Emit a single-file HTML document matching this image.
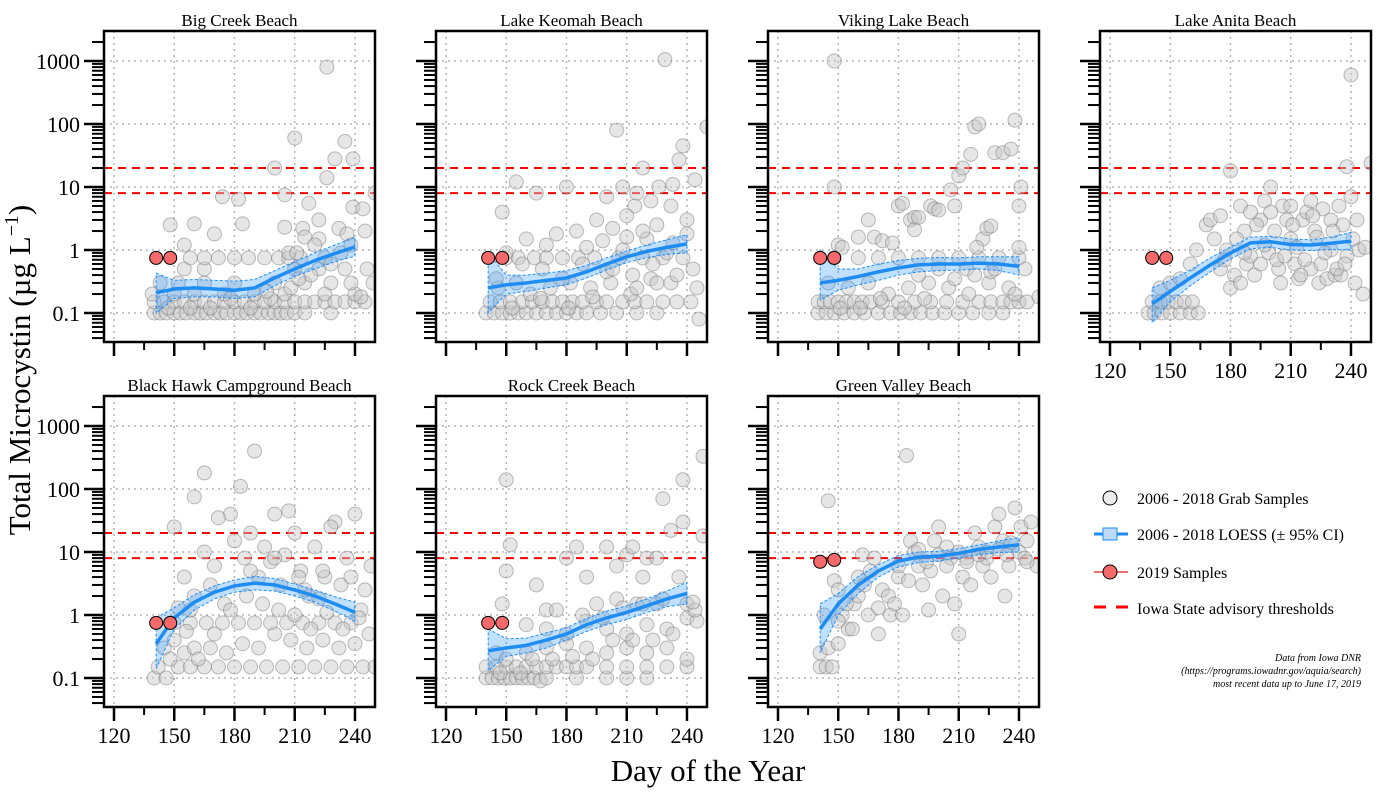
<!DOCTYPE html>
<html><head><meta charset="utf-8"><style>
html,body{margin:0;padding:0;background:#fff;}
svg{display:block;}
text{font-family:"Liberation Serif",serif;fill:#000;}
</style></head><body>
<svg id="chart" width="1400" height="800" viewBox="0 0 1400 800"></svg>
<script>
const xTicks=[120,150,180,210,240];
const xMinorTicks=[135,165,195,225];
const yDecades=[0.1,1,10,100,1000];
const thresholds=[8,20];
const panelTitles=["Big Creek Beach","Lake Keomah Beach","Viking Lake Beach","Lake Anita Beach","Black Hawk Campground Beach","Rock Creek Beach","Green Valley Beach"];
const loessDays=[141,150,160,170,180,190,200,210,220,230,240];
const loessFit=[
[0.21,0.24,0.25,0.24,0.23,0.25,0.36,0.5,0.68,0.88,1.12],
[0.25,0.28,0.3,0.33,0.36,0.45,0.6,0.78,0.95,1.1,1.25],
[0.3,0.33,0.38,0.45,0.52,0.58,0.6,0.6,0.62,0.6,0.55],
[0.14,0.22,0.36,0.58,0.9,1.3,1.35,1.22,1.2,1.28,1.38],
[0.35,0.9,1.6,2.3,2.9,3.2,3.0,2.5,2.0,1.5,1.1],
[0.27,0.3,0.33,0.4,0.5,0.7,0.9,1.1,1.4,1.8,2.2],
[0.6,1.5,3,5,7.2,8.3,8.6,9.5,11,12,13]];
const loessLow=[
[0.1,0.17,0.18,0.18,0.17,0.18,0.27,0.38,0.5,0.65,0.8],
[0.1,0.2,0.22,0.25,0.28,0.36,0.48,0.63,0.76,0.85,0.9],
[0.16,0.23,0.28,0.33,0.4,0.45,0.47,0.48,0.5,0.47,0.4],
[0.07,0.15,0.27,0.45,0.72,1.05,1.1,1.0,0.98,1.02,1.0],
[0.14,0.6,1.2,1.8,2.3,2.5,2.4,2.0,1.6,1.15,0.8],
[0.13,0.22,0.25,0.3,0.4,0.55,0.7,0.85,1.1,1.35,1.5],
[0.25,1.0,2.2,4,5.8,6.8,7.2,8,9,9.8,10]];
const loessHigh=[
[0.43,0.33,0.34,0.33,0.32,0.34,0.47,0.65,0.9,1.2,1.6],
[0.9,0.4,0.4,0.43,0.47,0.57,0.75,0.97,1.2,1.45,1.75],
[1.0,0.5,0.5,0.6,0.68,0.74,0.76,0.75,0.78,0.78,0.78],
[0.25,0.33,0.48,0.75,1.12,1.6,1.65,1.5,1.45,1.6,1.9],
[0.9,1.3,2.1,2.9,3.6,4.1,3.8,3.1,2.5,1.95,1.6],
[0.6,0.42,0.43,0.52,0.63,0.88,1.15,1.4,1.8,2.4,3.3],
[1.5,2.2,4.1,6.3,8.8,10,10.3,11.3,13,15,17]];
const redDays=[[141,148],[141,148],[141,148],[141,148],[141,148],[141,148],[141,148]];
const redValues=[[0.75,0.75],[0.75,0.75],[0.75,0.75],[0.75,0.75],[0.75,0.75],[0.75,0.75],[7,7.5]];
const scatter1=[[140,0.1],[143,0.1],[146,0.1],[150,0.1],[153,0.1],[156,0.1],[160,0.1],[163,0.1],[166,0.1],[170,0.1],[173,0.1],[176,0.1],[180,0.1],[183,0.1],[186,0.1],[190,0.1],[193,0.1],[197,0.1],[200,0.1],[203,0.1],[206,0.1],[210,0.1],[215,0.1],[228,0.1],
[140,0.15],[145,0.15],[150,0.15],[155,0.15],[160,0.15],[165,0.15],[170,0.15],[175,0.15],[180,0.15],[185,0.15],[190,0.15],[195,0.15],[200,0.15],[205,0.15],[210,0.15],[215,0.15],[220,0.15],[225,0.15],[230,0.15],[235,0.15],[240,0.15],[245,0.15],
[139,0.2],[150,0.2],[160,0.2],[175,0.2],[190,0.2],[205,0.2],[225,0.2],[240,0.2],[143,0.3],[152,0.3],[165,0.3],[180,0.3],[200,0.3],[215,0.3],[228,0.3],[238,0.3],[249,0.3],
[155,0.5],[165,0.5],[210,0.5],[222,0.5],[235,0.5],[246,0.5],[158,0.75],[165,0.75],[172,0.75],[180,0.75],[187,0.75],[195,0.75],[202,0.75],[207,0.75],[213,0.75],[225,0.75],[207,0.9],[211,0.9],
[148,2.5],[160,2.6],[170,1.8],[174,7],[182,6.4],[184,2.6],[200,20],[205,7.5],[210,60],[214,2.2],[217,5.5],[222,3],[226,800],[226,14],[230,28],[235,53],[239,28],[239,4.8],[244,4.5],[245,2],[250,8],[222,1.5],[232,2.2],[236,1.8],[215,1.6],[220,1.2],[155,1.2],[205,2.3],
[147,0.12],[158,0.12],[168,0.12],[178,0.17],[188,0.12],[198,0.17],[208,0.25],[218,0.4],[228,0.6],[233,0.9],[243,0.18],[238,1.2],[212,0.35],[196,0.22]];
const scatter2=[[140,0.1],[144,0.1],[148,0.1],[152,0.1],[156,0.1],[160,0.1],[165,0.1],[170,0.1],[175,0.1],[180,0.1],[185,0.1],[190,0.1],[197,0.1],[205,0.1],[215,0.1],[225,0.1],
[142,0.15],[147,0.15],[152,0.15],[158,0.15],[163,0.15],[168,0.15],[173,0.15],[178,0.15],[183,0.15],[188,0.15],[195,0.15],[200,0.15],[208,0.15],[214,0.15],[220,0.15],[228,0.15],[235,0.15],[242,0.15],
[146,0.25],[155,0.3],[162,0.2],[172,0.25],[182,0.3],[192,0.25],[202,0.3],[212,0.2],[222,0.35],[232,0.3],[245,0.25],
[150,0.75],[156,0.75],[164,0.75],[170,0.75],[178,0.75],[186,0.75],[194,0.75],[206,0.75],[218,0.75],[228,0.75],[238,0.75],
[155,12],[148,4],[165,8],[180,10],[200,7],[205,80],[208,10],[214,5],[218,20],[222,6],[226,10],[229,1050],[233,11],[236,27],[238,45],[240,3],[244,13],[250,90],[246,0.08],[195,3],[185,2],[175,1.8],[170,1.2],[160,1.5],[150,0.9],[190,1.1],[210,1.6],[220,1.5],[230,0.9],[240,1.8],[235,0.4],[225,0.3],[215,0.25],[200,0.45],[188,0.6],[178,0.35],[168,0.5],[158,0.6],[145,0.35],[210,3.5],[225,2.5],[232,5],[203,2.2],[215,8],
[153,0.12],[167,0.17],[181,0.12],[193,0.18],[203,0.5],[213,0.4],[223,0.6],[233,1.3],[243,0.5],[198,1.4],[208,1.0],[218,2.0]];
const scatter3=[[140,0.1],[144,0.1],[148,0.1],[153,0.1],[158,0.1],[163,0.1],[170,0.1],[176,0.1],[181,0.1],[186,0.1],[191,0.1],[197,0.1],[203,0.1],[210,0.1],[217,0.1],[225,0.1],[232,0.1],
[140,0.15],[143,0.15],[146,0.15],[150,0.15],[154,0.15],[158,0.15],[162,0.15],[166,0.15],[172,0.15],[180,0.15],[188,0.15],[196,0.15],[204,0.15],[212,0.15],[220,0.15],[226,0.15],[232,0.15],[236,0.15],[240,0.15],[244,0.15],[250,0.18],
[145,0.3],[155,0.25],[165,0.3],[175,0.2],[185,0.25],[195,0.3],[205,0.25],[215,0.2],[225,0.3],[235,0.25],[243,0.5],
[148,0.75],[160,0.75],[170,0.75],[180,0.75],[190,0.75],[200,0.75],[210,0.75],[220,0.75],[230,0.75],[240,0.75],[214,0.5],[226,0.45],
[148,1000],[148,10],[150,1.2],[152,1.1],[165,3],[168,1.6],[172,1.4],[180,5],[182,5.5],[186,3],[188,3.3],[188,2.1],[190,3.3],[196,5],[198,4.5],[200,4.3],[206,9],[208,5],[210,15],[212,20],[216,33],[218,90],[220,100],[222,1.5],[224,2.2],[226,2.4],[228,35],[232,35],[236,40],[238,115],[240,1.1],[241,10],[240,5],[160,1.6],[177,1.3],[219,1.1],
[151,0.12],[161,0.12],[171,0.17],[183,0.12],[193,0.17],[208,0.35],[218,0.4],[228,0.5],[238,0.2],[200,0.5],[190,0.4]];
const scatter4=[[139,0.1],[142,0.1],[146,0.1],[150,0.1],[155,0.1],[160,0.1],[164,0.1],[141,0.15],[145,0.15],[149,0.15],[153,0.15],[157,0.15],[161,0.15],
[145,0.25],[150,0.3],[155,0.35],[160,0.6],[163,1.0],[168,2.5],[170,3],[172,1.5],[175,3.5],[178,1.0],[180,18],[182,0.4],[185,5],[187,2],[188,0.6],[190,0.8],[192,0.4],[195,3],[197,6],[199,0.9],[200,10],[202,2],[204,0.5],[206,5],[208,3],[210,1.5],[212,0.6],[214,0.35],[216,3],[218,4],[220,0.5],[222,2],[224,0.3],[226,4.5],[228,0.35],[230,1.0],[232,0.4],[234,5],[236,2.5],[238,0.8],[240,600],[238,21],[250,24],[244,1.0],[246,0.2],[242,0.3],[180,0.25],[175,0.5],[185,0.3],[195,0.6],[205,0.3],[215,0.4],[225,0.6],[235,0.4],[190,4],[200,4],[210,5],[220,6],[230,3],[240,7],[183,1.5],[193,2.5],[203,0.7],[213,1.1],[223,1.6],[233,0.5],[243,3],
[187,0.9],[197,1.2],[207,0.8],[217,0.7],[227,0.9],[237,0.6],[247,1.1],[177,0.7],[211,2.5],[221,3.5],[231,2],[241,1.5]];
const scatter5=[[140,0.1],[146,0.1],[152,0.15],[158,0.15],[165,0.15],[172,0.15],[180,0.15],[188,0.15],[196,0.15],[204,0.15],[212,0.15],[220,0.15],[228,0.15],[236,0.15],[244,0.15],[250,0.15],[142,0.15],
[145,0.3],[150,0.4],[155,0.25],[160,0.3],[168,0.3],[176,0.25],[184,0.35],[192,0.3],[200,0.5],[208,0.4],[216,0.3],[224,0.4],[232,0.3],[240,0.35],[247,0.5],
[150,0.75],[158,0.75],[166,0.75],[174,0.75],[182,0.75],[190,0.75],[198,0.75],[206,0.75],[214,0.75],[222,0.75],[230,0.75],[238,0.75],
[165,180],[160,75],[190,400],[183,110],[207,45],[200,40],[230,30],[240,40],[178,40],[172,35],[150,25],[155,4],[160,2],[165,10],[170,6],[175,1.5],[180,15],[185,8],[188,20],[195,12],[198,7],[203,3],[210,20],[213,5],[217,2],[220,12],[225,4],[228,25],[233,3],[236,8],[243,1.2],[248,6],[152,1.3],[158,1.2],[168,3],[192,4],[205,9],[215,2.5],[222,1.8],[245,2.5],
[148,0.2],[162,0.2],[170,0.5],[178,1.2],[186,2],[194,1.5],[202,1.2],[210,1.0],[218,0.6],[226,1.1],[234,0.6],[242,0.9],[156,0.55],[188,5],[200,8],[212,4],[224,5],[238,4]];
const scatter6=[[140,0.1],[143,0.1],[146,0.1],[149,0.1],[152,0.1],[155,0.1],[158,0.1],[161,0.1],[164,0.1],[167,0.09],[170,0.1],[185,0.1],[200,0.1],[210,0.1],[220,0.1],
[140,0.15],[145,0.15],[150,0.15],[155,0.15],[160,0.15],[165,0.15],[170,0.15],[175,0.15],[180,0.15],[185,0.15],[190,0.15],[200,0.15],[210,0.15],[220,0.15],[230,0.15],[240,0.15],
[145,0.25],[150,0.2],[160,0.25],[170,0.3],[180,0.35],[190,0.3],[200,0.25],[210,0.3],[220,0.25],[230,0.3],[240,0.2],
[160,0.7],[170,0.6],[180,0.5],[190,0.8],[200,0.6],[210,0.5],[220,0.7],[230,0.6],[240,0.9],[245,0.8],
[150,140],[148,1.5],[150,5],[152,13],[165,3],[170,1.2],[175,1.2],[180,8],[185,12],[190,4],[195,1.5],[200,12],[205,6],[210,9],[213,12],[215,1.5],[218,4],[220,8],[225,8],[228,70],[232,22],[236,4],[238,140],[238,30],[240,1.5],[244,1.2],[248,330],[248,18],[225,1.5],[205,1.8],
[147,0.12],[157,0.12],[163,0.2],[173,0.2],[183,0.22],[193,0.2],[203,0.4],[213,0.4],[223,0.4],[233,0.5],[243,1.6],[188,1.0],[198,0.9],[208,1.3],[218,1.5],[228,1.8]];
const scatter7=[[141,0.15],[144,0.15],[147,0.15],[141,0.25],[145,0.3],[150,0.35],[143,1.0],[145,65],[148,3.5],[150,2.5],[152,1.0],[155,0.6],[157,0.6],[158,1.5],[160,4],[162,9],[163,3],[165,1.0],[166,5],[168,8],[170,0.5],[172,2.5],[175,2],[176,1.0],[178,1.5],[180,4],[182,1.0],[184,340],[185,3.5],[186,15],[188,10],[190,6],[192,3],[195,1.2],[196,5],[198,15],[200,25],[202,2],[204,12],[206,8],[208,1.5],[210,0.5],[212,4],[214,8],[216,3],[218,20],[220,12],[222,6],[224,8],[226,4],[228,25],[230,40],[232,15],[233,2],[235,6],[238,50],[240,10],[241,25],[243,8],[246,30],[249,6],[190,11],[200,9],[210,10],[220,9],[230,11],[236,14],[244,15],
[154,1.5],[160,2],[170,1.3],[180,6],[194,7],[204,6],[214,7],[224,10],[234,9],[244,7],[150,0.8]];
const scatters=[scatter1,scatter2,scatter3,scatter4,scatter5,scatter6,scatter7];

const NS="http://www.w3.org/2000/svg";
const svg=document.getElementById('chart');
function mk(tag,attrs,parent){const e=document.createElementNS(NS,tag);for(const k in attrs)e.setAttribute(k,attrs[k]);(parent||svg).appendChild(e);return e;}
const panels=[[104,31],[436,31],[768,31],[1100,31],[104,396],[436,396],[768,396]];
const PW=271,PH=311;
panels.forEach((p,i)=>{
  const L=p[0],T=p[1];
  const xs=d=>L+10+(d-120)*2.008;
  const ys=v=>T+30+(3-Math.log10(v))*63;
  const g=mk('g',{});
  
  
  const cp=mk('clipPath',{id:'cp'+i},g);mk('rect',{x:L,y:T,width:PW,height:PH},cp);
  const t=mk('text',{x:L+PW/2,y:T-5,'text-anchor':'middle','font-size':'17'},g);t.textContent=panelTitles[i];
  
  
  xTicks.forEach(d=>{const l=mk('line',{x1:xs(d),x2:xs(d),y1:T,y2:T+PH,stroke:'#b5b5b5','stroke-width':1.5,'stroke-dasharray':'2,4'},g);});
  yDecades.forEach(v=>{const l=mk('line',{x1:L,x2:L+PW,y1:ys(v),y2:ys(v),stroke:'#b5b5b5','stroke-width':1.5,'stroke-dasharray':'2,4'},g);});
  thresholds.forEach(v=>{const l=mk('line',{x1:L,x2:L+PW,y1:ys(v),y2:ys(v),stroke:'#ff0000','stroke-width':2,'stroke-dasharray':'8,6'},g);});
  const cg=mk('g',{'clip-path':'url(#cp'+i+')'},g);
  scatters[i].forEach(pt=>{const c=mk('circle',{cx:xs(pt[0]),cy:ys(pt[1]),r:7,fill:'rgba(200,200,200,0.45)',stroke:'rgba(110,110,110,0.45)','stroke-width':1},cg);});
  let band='';loessDays.forEach((d,k)=>band+=(k?'L':'M')+xs(d)+','+ys(loessHigh[i][k]));
  for(let k=loessDays.length-1;k>=0;k--)band+='L'+xs(loessDays[k])+','+ys(loessLow[i][k]);
  const b=mk('path',{d:band+'Z',fill:'rgba(30,144,255,0.28)',stroke:'#1e90ff','stroke-width':1,'stroke-dasharray':'3,2'},cg);
  
  let ln='';loessDays.forEach((d,k)=>ln+=(k?'L':'M')+xs(d)+','+ys(loessFit[i][k]));
  const lp=mk('path',{d:ln,fill:'none',stroke:'#1e8cf0','stroke-width':3.5,'stroke-linejoin':'round'},cg);
  
  const rl=mk('line',{x1:xs(redDays[i][0]),x2:xs(redDays[i][1]),y1:ys(redValues[i][0]),y2:ys(redValues[i][1]),stroke:'#f07070','stroke-width':2},cg);
  
  redDays[i].forEach((d,k)=>{const c=mk('circle',{cx:xs(d),cy:ys(redValues[i][k]),r:6.5,fill:'#f46a6a',stroke:'#000','stroke-width':1},cg);});
  const fr=mk('rect',{x:L,y:T,width:PW,height:PH,fill:'none',stroke:'#000','stroke-width':2.5},g);
  
  for(let e=-2;e<=3;e++){for(let m=1;m<=9;m++){const v=m*Math.pow(10,e);const y=ys(v);if(y<T||y>T+PH)continue;
    mk('line',{x1:L-(m==1?20:12),x2:L,y1:y,y2:y,stroke:'#000','stroke-width':m==1?2.5:2},g);}}
  if(L===104){yDecades.forEach(v=>{const tx=mk('text',{x:L-24,y:ys(v)+8,'text-anchor':'end','font-size':'22'},g);tx.textContent=v;});}
  xTicks.forEach(d=>mk('line',{x1:xs(d),x2:xs(d),y1:T+PH,y2:T+PH+14,stroke:'#000','stroke-width':2.5},g));
  xMinorTicks.forEach(d=>mk('line',{x1:xs(d),x2:xs(d),y1:T+PH,y2:T+PH+8,stroke:'#000','stroke-width':2},g));
  if(T>300||i===3){xTicks.forEach(d=>{const tx=mk('text',{x:xs(d),y:T+PH+36,'text-anchor':'middle','font-size':'22'},g);tx.textContent=d;});}
});
</script>
<svg style="position:absolute;left:0;top:0" width="1400" height="800">
<text transform="translate(30,370) rotate(-90)" text-anchor="middle" font-size="31">Total Microcystin (µg L<tspan dy="-12" font-size="20">−1</tspan><tspan dy="12">)</tspan></text>
<text x="708" y="781" text-anchor="middle" font-size="31">Day of the Year</text>
<g>
<circle cx="1110" cy="498" r="7" fill="#ececec" stroke="#000" stroke-width="1"/>
<text x="1137" y="504" font-size="16">2006 - 2018 Grab Samples</text>
<line x1="1094" x2="1128" y1="534" y2="534" stroke="#1e8cf0" stroke-width="3"/>
<rect x="1103" y="528" width="14" height="12" fill="#bcd9f8" stroke="#1e8cf0" stroke-width="1"/>
<text x="1137" y="540" font-size="16">2006 - 2018 LOESS (± 95% CI)</text>
<line x1="1094" x2="1128" y1="572" y2="572" stroke="#f07070" stroke-width="2"/>
<circle cx="1110" cy="572" r="7" fill="#f46a6a" stroke="#000" stroke-width="1"/>
<text x="1137" y="578" font-size="16">2019 Samples</text>
<line x1="1094" x2="1128" y1="607" y2="607" stroke="#ff0000" stroke-width="3" stroke-dasharray="12,10"/>
<text x="1137" y="614" font-size="16">Iowa State advisory thresholds</text>
</g>
<g font-style="italic" font-size="10" text-anchor="end">
<text x="1361" y="661">Data from Iowa DNR</text>
<text x="1361" y="674">(https://programs.iowadnr.gov/aquia/search)</text>
<text x="1361" y="687">most recent data up to June 17, 2019</text>
</g>
</svg>
</body></html>
